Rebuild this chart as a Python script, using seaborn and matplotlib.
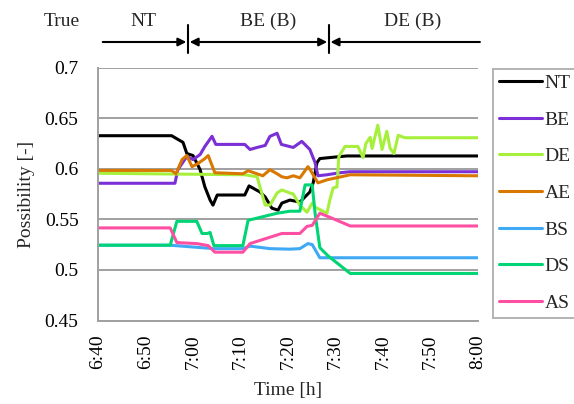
import pandas as pd
import matplotlib.pyplot as plt
import seaborn as sns

sns.set_theme(style='white')
plt.rcParams['font.family'] = ['Liberation Serif', 'DejaVu Serif']

# time in minutes after 6:40, possibility values
nt_t = [0, 15.5, 17.9, 18.7, 20.0, 21.5, 22.5, 23.6, 24.2, 25.1, 30.9, 31.8, 34.1, 35.2, 36.6, 37.9, 38.7,
        40.4, 42.5, 44.6, 45.3, 46.1, 46.7, 48.8, 52.4, 80]
nt_v = [.6326, .6326, .626, .615, .613, .599, .582, .569, .564, .574, .574, .583, .577, .572, .561, .559, .566,
        .569, .567, .577, .586, .606, .610, .611, .6126, .6126]

be_t = [0, 16.2, 16.8, 18.7, 20.0, 21.5, 22.5, 24.0, 24.8, 30.9, 32.0, 33.5, 35.2, 36.2, 37.7, 38.6, 41.1,
        42.9, 44.6, 45.7, 46.3, 48.2, 50.9, 53.1, 80]
be_v = [.5856, .5856, .599, .612, .609, .614, .622, .632, .624, .624, .619, .621, .623, .632, .635, .624, .621,
        .627, .619, .606, .593, .594, .596, .597, .597]

de_t = [0, 30.9, 33.5, 34.1, 35.2, 36.2, 37.7, 38.7, 40.4, 41.1, 42.5, 44.0, 45.1, 45.7, 48.2, 48.8, 49.5,
        50.3, 50.7, 52.0, 54.7, 55.8, 56.4, 57.3, 57.7, 58.9, 59.8, 60.8, 61.5, 62.3, 63.2, 64.6, 80]
de_v = [.5955, .594, .592, .582, .564, .564, .576, .579, .576, .575, .564, .557, .566, .562, .556, .569, .581,
        .582, .612, .622, .622, .611, .625, .631, .620, .643, .619, .637, .620, .615, .633, .6306, .6306]

ae_t = [0, 15.5, 16.4, 17.7, 18.7, 19.8, 21.0, 22.5, 23.2, 24.6, 30.5, 31.6, 34.7, 36.2, 37.7, 38.7, 39.8,
        41.1, 42.5, 44.2, 44.8, 46.3, 48.2, 53.1, 80]
ae_v = [.5983, .5983, .595, .609, .613, .602, .605, .610, .613, .596, .595, .598, .593, .599, .595, .592, .591,
        .593, .591, .602, .598, .586, .589, .594, .593]

bs_t = [0, 15.2, 24.4, 30.5, 32.0, 36.2, 40.4, 42.5, 44.2, 45.1, 46.7, 80]
bs_v = [.5244, .5244, .521, .521, .5235, .521, .5205, .521, .526, .525, .512, .512]

ds_t = [0, 15.2, 16.6, 20.8, 21.9, 23.0, 23.6, 24.4, 30.5, 31.6, 37.7, 40.4, 42.5, 43.6, 45.1, 45.7, 46.7,
        48.4, 53.1, 80]
ds_v = [.5244, .5244, .548, .548, .536, .536, .537, .524, .524, .549, .556, .558, .558, .584, .584, .556, .522,
        .514, .4965, .4965]

as_t = [0, 15.2, 16.6, 20.8, 23.2, 24.6, 30.5, 32.0, 38.7, 42.5, 44.0, 45.1, 46.7, 48.8, 53.1, 80]
as_v = [.5415, .5415, .527, .526, .524, .5175, .5175, .526, .536, .536, .543, .544, .556, .552, .5434, .5434]

series = ['NT', 'BE', 'DE', 'AE', 'BS', 'DS', 'AS']
colors = ['#000000', '#7b2fd6', '#a6f03c', '#d97800', '#3fa9f5', '#00d474', '#ff4fa3']
tick_labels = ['6:40', '6:50', '7:00', '7:10', '7:20', '7:30', '7:40', '7:50', '8:00']

# true state segments along the top
phase_labels = ['NT', 'BE (B)', 'DE (B)']
phase_label_x = [9.5, 35.8, 66.3]
phase_bounds = [1.0, 18.95, 48.6, 80.4]

frames = []
for name, t, v in zip(series, [nt_t, be_t, de_t, ae_t, bs_t, ds_t, as_t],
                      [nt_v, be_v, de_v, ae_v, bs_v, ds_v, as_v]):
    frames.append(pd.DataFrame({'time': t, 'value': v, 'series': name}))
df = pd.concat(frames, ignore_index=True)

fig = plt.figure(figsize=(5.74, 4.04), dpi=100)
ax = fig.add_axes([98 / 574, 1 - 320.5 / 404, 380 / 574, 253 / 404])

sns.lineplot(data=df, x='time', y='value', hue='series', hue_order=series,
             palette=dict(zip(series, colors)), linewidth=2.2, ax=ax, legend=False)

grid_c = '#a0a0a0'
ax.set_xlim(0, 80)
ax.set_ylim(0.45, 0.7)
ax.set_yticks([0.45, 0.5, 0.55, 0.6, 0.65, 0.7])
ax.set_yticklabels(['0.45', '0.5', '0.55', '0.6', '0.65', '0.7'])
ax.set_xticks(range(0, 81, 10))
ax.set_xticklabels(tick_labels, rotation=90)
ax.yaxis.grid(True, color=grid_c, linewidth=1.4)
ax.set_axisbelow(True)
for s in ['top', 'right']:
    ax.spines[s].set_visible(False)
for s in ['left', 'bottom']:
    ax.spines[s].set_color(grid_c)
    ax.spines[s].set_linewidth(1.4)
ax.tick_params(axis='both', direction='out', length=4, width=1.4, color=grid_c,
               labelsize=14, labelcolor='black')
ax.tick_params(axis='y', pad=10)
ax.tick_params(axis='x', pad=6)
ax.set_xlabel('Time [h]', fontsize=14)
ax.set_ylabel('Possibility [-]', fontsize=14)
ax.yaxis.set_label_coords(-0.165, 0.5)
ax.xaxis.set_label_coords(0.5, -0.245)

# legend
handles = [plt.Line2D([], [], color=c, linewidth=2.2) for c in colors]
leg = fig.legend(handles, series, loc='upper left', bbox_to_anchor=(492.7 / 574, 1 - 68.5 / 404),
                 borderaxespad=0, fontsize=14, frameon=True, fancybox=False,
                 borderpad=0.3, labelspacing=0.98, handlelength=2.25, handletextpad=0.12)
leg.get_frame().set_edgecolor(grid_c)
leg.get_frame().set_linewidth(1.4)

# timeline of the true state
trans = ax.get_xaxis_transform()
ya = 1.1008
arrow_kw = dict(color='black', lw=1.5, mutation_scale=12, shrinkA=0, shrinkB=0)
ax.annotate('', xy=(phase_bounds[1] - 0.35, ya), xytext=(phase_bounds[0], ya), xycoords=trans,
            arrowprops=dict(arrowstyle='-|>', **arrow_kw))
ax.annotate('', xy=(phase_bounds[2] - 0.35, ya), xytext=(phase_bounds[1] + 0.35, ya), xycoords=trans,
            arrowprops=dict(arrowstyle='<|-|>', **arrow_kw))
ax.annotate('', xy=(phase_bounds[3], ya), xytext=(phase_bounds[2] + 0.35, ya), xycoords=trans,
            arrowprops=dict(arrowstyle='<|-', **arrow_kw))
for b in phase_bounds[1:3]:
    ax.plot([b, b], [1.057, 1.168], color='black', lw=1.5, transform=trans, clip_on=False)

ax.text(-7.6, 1.181, 'True', transform=trans, ha='center', va='center', fontsize=14)
for lab, xm in zip(phase_labels, phase_label_x):
    ax.text(xm, 1.181, lab, transform=trans, ha='center', va='center', fontsize=14)

fig.savefig('out.png', dpi=100)
